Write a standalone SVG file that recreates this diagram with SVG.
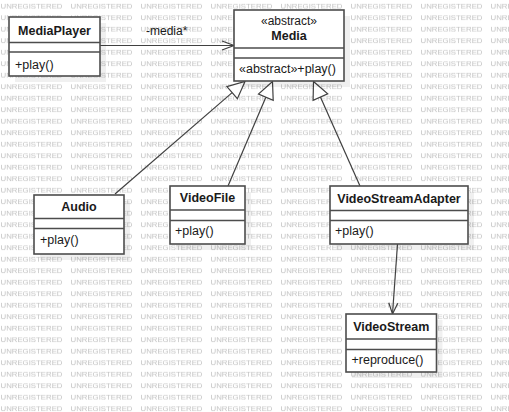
<svg xmlns="http://www.w3.org/2000/svg" width="509" height="412" viewBox="0 0 509 412">
<defs>
<pattern id="wm" patternUnits="userSpaceOnUse" x="0" y="0" width="70" height="11.5">
<text x="0.5" y="8.5" font-family="'Liberation Sans', Arial, sans-serif" font-size="7.2" fill="#c2c2c2" textLength="62" lengthAdjust="spacingAndGlyphs">UNREGISTERED</text>
</pattern>
<style>
.shadow{fill:#000;fill-opacity:0.06}
.box{fill:#fff;stroke:#4d4d4d;stroke-width:1.6}
.div{stroke:#4d4d4d;stroke-width:1.6}
.name{font-family:'Liberation Sans',Arial,sans-serif;font-size:12.5px;font-weight:bold;fill:#1a1a1a;text-anchor:middle}
.op{font-family:'Liberation Sans',Arial,sans-serif;font-size:12.5px;fill:#1a1a1a}
.st{font-family:'Liberation Sans',Arial,sans-serif;font-size:12px;fill:#1a1a1a;text-anchor:middle}
.ln{stroke:#404040;stroke-width:1.2;fill:none}
.tri{stroke:#404040;stroke-width:1.2;fill:#fff}
</style>
</defs>
<rect width="509" height="412" fill="#fff"/>
<rect width="509" height="412" fill="url(#wm)"/>

<g id="connectors">
<g id="assoc-media">
<line class="ln" x1="100" y1="45.5" x2="234" y2="45.5"/>
<polyline class="ln" points="222,41 234,45.5 222,50"/>
<text class="op" x="146" y="35" style="font-size:12px">-media*</text>
</g>
<g id="gen-audio">
<line class="ln" x1="115" y1="194" x2="232.15" y2="92.62"/>
<polygon class="tri" points="245,81.5 237.38,98.67 226.92,86.57"/>
</g>
<g id="gen-videofile">
<line class="ln" x1="228" y1="186" x2="265.84" y2="97.14"/>
<polygon class="tri" points="272.5,81.5 273.2,100.28 258.48,94"/>
</g>
<g id="gen-adapter">
<line class="ln" x1="360" y1="186" x2="320.41" y2="97.03"/>
<polygon class="tri" points="313.5,81.5 327.72,93.78 313.1,100.28"/>
</g>
<g id="dep-videostream">
<line class="ln" x1="397.5" y1="244" x2="392.5" y2="314"/>
<polyline class="ln" points="397.77,303.35 392.5,314 388.79,302.71"/>
</g>
</g>

<g id="MediaPlayer">
<rect class="shadow" x="15" y="23" width="91" height="59"/>
<rect class="box" x="9" y="17" width="91" height="59"/>
<line class="div" x1="9" y1="42.5" x2="100" y2="42.5"/>
<line class="div" x1="9" y1="52" x2="100" y2="52"/>
<text class="name" x="54.5" y="35">MediaPlayer</text>
<text class="op" x="15" y="69">+play()</text>
</g>

<g id="Media">
<rect class="shadow" x="240" y="16" width="110" height="71"/>
<rect class="box" x="234" y="10" width="110" height="71"/>
<line class="div" x1="234" y1="48" x2="344" y2="48"/>
<line class="div" x1="234" y1="58" x2="344" y2="58"/>
<text class="st" x="289" y="25">«abstract»</text>
<text class="name" x="289" y="39.5">Media</text>
<text class="op" x="239" y="73">«abstract»+play()</text>
</g>

<g id="Audio">
<rect class="shadow" x="40" y="201" width="90" height="59"/>
<rect class="box" x="34" y="195" width="90" height="59"/>
<line class="div" x1="34" y1="218.5" x2="124" y2="218.5"/>
<line class="div" x1="34" y1="228.5" x2="124" y2="228.5"/>
<text class="name" x="79" y="211">Audio</text>
<text class="op" x="40" y="244">+play()</text>
</g>

<g id="VideoFile">
<rect class="shadow" x="176" y="192" width="75" height="58"/>
<rect class="box" x="170" y="186" width="75" height="58"/>
<line class="div" x1="170" y1="210" x2="245" y2="210"/>
<line class="div" x1="170" y1="220.5" x2="245" y2="220.5"/>
<text class="name" x="207.5" y="202">VideoFile</text>
<text class="op" x="175" y="235">+play()</text>
</g>

<g id="VideoStreamAdapter">
<rect class="shadow" x="336" y="192" width="138" height="58"/>
<rect class="box" x="330" y="186" width="138" height="58"/>
<line class="div" x1="330" y1="210.5" x2="468" y2="210.5"/>
<line class="div" x1="330" y1="220.5" x2="468" y2="220.5"/>
<text class="name" x="399" y="203">VideoStreamAdapter</text>
<text class="op" x="335" y="235">+play()</text>
</g>

<g id="VideoStream">
<rect class="shadow" x="352" y="320" width="90.5" height="58"/>
<rect class="box" x="346" y="314" width="90.5" height="58"/>
<line class="div" x1="346" y1="339" x2="436.5" y2="339"/>
<line class="div" x1="346" y1="349.5" x2="436.5" y2="349.5"/>
<text class="name" x="391.25" y="331">VideoStream</text>
<text class="op" x="351.5" y="364">+reproduce()</text>
</g>
</svg>
